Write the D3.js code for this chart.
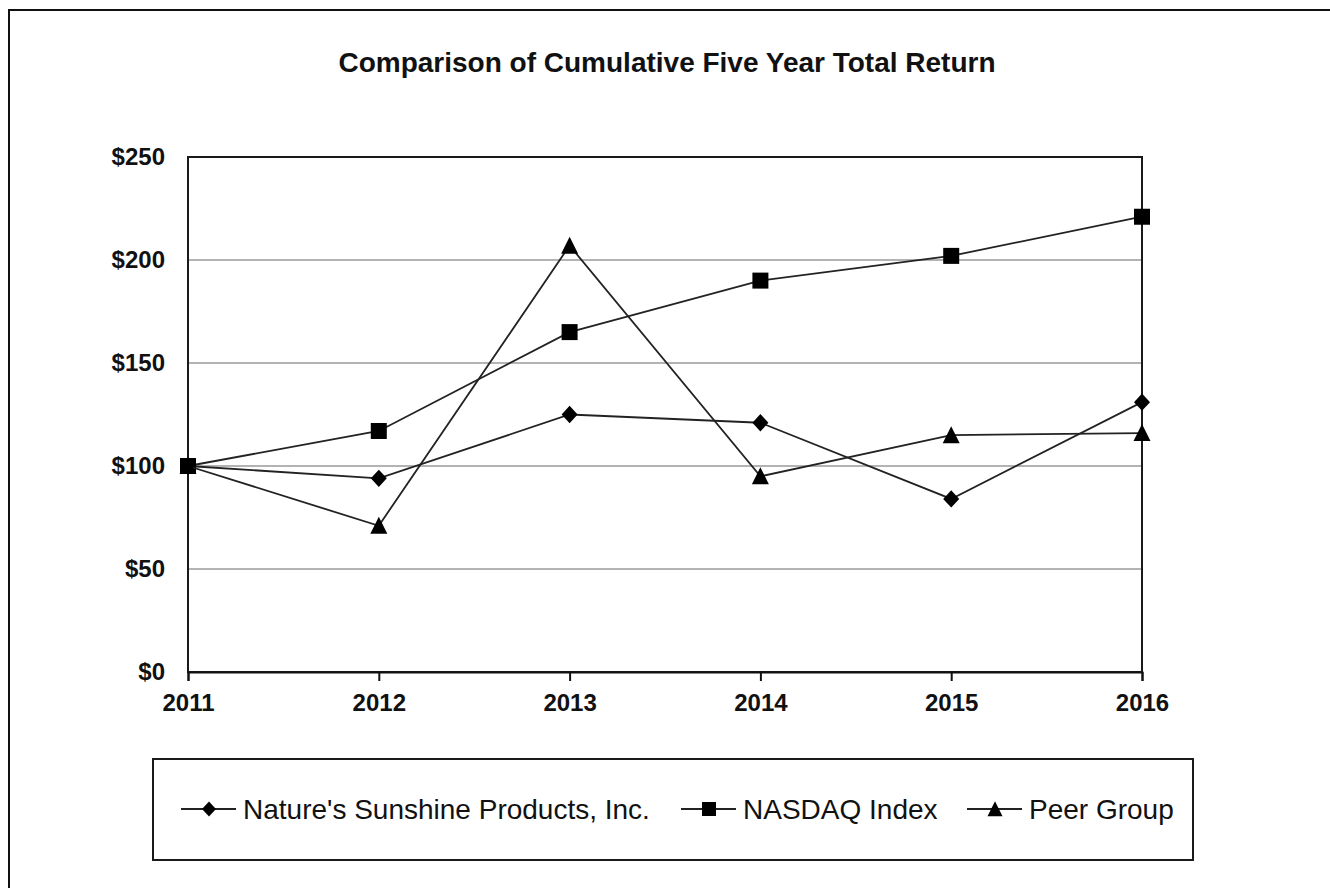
<!DOCTYPE html>
<html>
<head>
<meta charset="utf-8">
<script src="https://cdn.jsdelivr.net/npm/d3@7"></script>
<style>
  body { margin: 0; background: #fff; }
  svg { display: block; font-family: Arial, "Liberation Sans", sans-serif; }
</style>
</head>
<body>
<div id="chart"></div>
<script>
// values
var years = ["2011", "2012", "2013", "2014", "2015", "2016"];
var natures = [100, 94, 125, 121, 84, 131];
var nasdaq = [100, 117, 165, 190, 202, 221];
var peer = [100, 71, 207, 95, 115, 116];
var yTicks = [0, 50, 100, 150, 200, 250];
var seriesNames = ["Nature's Sunshine Products, Inc.", "NASDAQ Index", "Peer Group"];

var W = 1330, H = 888;
var plot = { left: 188, top: 157, right: 1142, bottom: 672 };

var svg = d3.select("#chart").append("svg")
  .attr("width", W)
  .attr("height", H);

// outer frame (only the left and top edges are inside the picture)
svg.append("rect")
  .attr("x", 9).attr("y", 10)
  .attr("width", 1400).attr("height", 1000)
  .attr("fill", "none")
  .attr("stroke", "#111")
  .attr("stroke-width", 2);

svg.append("text")
  .attr("x", 667).attr("y", 72)
  .attr("text-anchor", "middle")
  .attr("font-size", 28)
  .attr("font-weight", "bold")
  .attr("fill", "#111")
  .text("Comparison of Cumulative Five Year Total Return");

var x = d3.scalePoint().domain(years).range([plot.left, plot.right]);
var y = d3.scaleLinear().domain([0, 250]).range([plot.bottom, plot.top]);

// gridlines
svg.append("g")
  .selectAll("line")
  .data(yTicks.filter(function (d) { return d > 0 && d < 250; }))
  .enter().append("line")
  .attr("x1", plot.left).attr("x2", plot.right)
  .attr("y1", function (d) { return y(d); })
  .attr("y2", function (d) { return y(d); })
  .attr("stroke", "#9a9a9a")
  .attr("stroke-width", 1.5);

// plot frame
svg.append("rect")
  .attr("x", plot.left).attr("y", plot.top)
  .attr("width", plot.right - plot.left)
  .attr("height", plot.bottom - plot.top)
  .attr("fill", "none")
  .attr("stroke", "#1a1a1a")
  .attr("stroke-width", 2);

// y axis
var yAxis = svg.append("g")
  .attr("transform", "translate(" + plot.left + ",0)")
  .call(d3.axisLeft(y).tickValues(yTicks).tickSize(0).tickPadding(23)
    .tickFormat(function (d) { return "$" + d; }));
yAxis.select(".domain").remove();
yAxis.selectAll("text")
  .attr("font-size", 24).attr("font-weight", "bold").attr("fill", "#111")
  .attr("font-family", "Arial, 'Liberation Sans', sans-serif");

// x axis
var xAxis = svg.append("g")
  .attr("transform", "translate(0," + plot.bottom + ")")
  .call(d3.axisBottom(x).tickSize(9).tickPadding(13));
xAxis.select(".domain").attr("stroke", "#111").attr("stroke-width", 2);
xAxis.selectAll("line").attr("stroke", "#111").attr("stroke-width", 2);
xAxis.selectAll("text")
  .attr("font-size", 24).attr("font-weight", "bold").attr("fill", "#111")
  .attr("font-family", "Arial, 'Liberation Sans', sans-serif");

// marker shapes
var diamond = {
  draw: function (ctx, s) {
    var w = s, h = s * 1.08;
    ctx.moveTo(0, -h); ctx.lineTo(w, 0); ctx.lineTo(0, h); ctx.lineTo(-w, 0); ctx.closePath();
  }
};
var square = {
  draw: function (ctx, s) { ctx.rect(-s, -s, 2 * s, 2 * s); }
};
var triangle = {
  draw: function (ctx, s) {
    ctx.moveTo(0, -s * 1.05); ctx.lineTo(s, s * 0.95); ctx.lineTo(-s, s * 0.95); ctx.closePath();
  }
};

var series = [
  { name: seriesNames[0], values: natures, shape: diamond, size: 8, legSize: 7 },
  { name: seriesNames[1], values: nasdaq, shape: square, size: 8, legSize: 7 },
  { name: seriesNames[2], values: peer, shape: triangle, size: 8.5, legSize: 7.5 }
];

var line = d3.line()
  .x(function (d, i) { return x(years[i]); })
  .y(function (d) { return y(d); });

series.forEach(function (s) {
  svg.append("path")
    .datum(s.values)
    .attr("d", line)
    .attr("fill", "none")
    .attr("stroke", "#222")
    .attr("stroke-width", 1.8);

  svg.append("g")
    .selectAll("path")
    .data(s.values)
    .enter().append("path")
    .attr("transform", function (d, i) {
      return "translate(" + x(years[i]) + "," + y(d) + ")";
    })
    .attr("d", d3.symbol().type(s.shape).size(s.size))
    .attr("fill", "#000");
});

// legend
svg.append("rect")
  .attr("x", 153).attr("y", 759)
  .attr("width", 1040).attr("height", 101)
  .attr("fill", "#fff")
  .attr("stroke", "#1a1a1a")
  .attr("stroke-width", 2);

var legendX = [181, 681, 967];
var legendY = 809;
series.forEach(function (s, i) {
  var g = svg.append("g").attr("transform", "translate(" + legendX[i] + "," + legendY + ")");
  g.append("line")
    .attr("x1", 0).attr("x2", 55)
    .attr("y1", 0).attr("y2", 0)
    .attr("stroke", "#222").attr("stroke-width", 1.8);
  g.append("path")
    .attr("transform", "translate(28,0)")
    .attr("d", d3.symbol().type(s.shape).size(s.legSize))
    .attr("fill", "#000");
  g.append("text")
    .attr("x", 62).attr("y", 10)
    .attr("font-size", 28)
    .attr("fill", "#111")
    .text(s.name);
});
</script>
</body>
</html>
